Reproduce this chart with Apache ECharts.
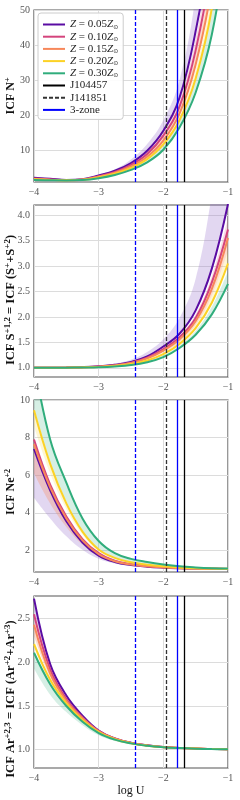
<!DOCTYPE html>
<html><head><meta charset="utf-8">
<script src="https://cdn.jsdelivr.net/npm/echarts@6/dist/echarts.min.js"></script>
<style>html,body{margin:0;padding:0;background:#fff}#c{width:240px;height:800px}</style>
</head><body><div id="c"></div>
<script>
// x grid (log U)
const logU = [-4, -3.75, -3.5, -3.25, -3, -2.75, -2.5, -2.25, -2, -1.75, -1.5, -1.25, -1];

// Panel 1: ICF N+
const n05 = [2.2, 1.9, 1.6, 1.8, 2.85, 4.2, 6.4, 9.9, 15.6, 25.0, 44, 72, 125];
const n10 = [2.0, 1.75, 1.55, 1.72, 2.65, 3.9, 5.9, 9.0, 14.2, 22.5, 38.5, 64, 110];
const n15 = [1.85, 1.65, 1.5, 1.66, 2.5, 3.65, 5.45, 8.2, 12.8, 20.5, 34.5, 57, 97];
const n20 = [1.75, 1.6, 1.5, 1.62, 2.3, 3.35, 5.0, 7.5, 11.7, 18.6, 30.5, 50.5, 85];
const n30 = [1.6, 1.5, 1.45, 1.57, 2.1, 3.0, 4.45, 6.6, 10.2, 16.5, 26.5, 43, 71];
const n05_hi = [2.3, 2.05, 1.8, 1.95, 3.1, 4.6, 7.4, 11.8, 18.6, 30, 54, 92, 160];
const n10_hi = [2.1, 1.85, 1.62, 1.78, 2.7, 4.0, 6.4, 9.9, 15.6, 24.5, 42, 70, 120];
const n15_hi = [1.95, 1.72, 1.55, 1.7, 2.55, 3.75, 5.8, 8.9, 14.0, 22.3, 37.5, 62, 106];
const n20_hi = [1.82, 1.65, 1.52, 1.65, 2.38, 3.5, 5.35, 8.1, 12.6, 20.2, 33, 55, 93];
const n30_hi = [1.72, 1.58, 1.5, 1.62, 2.25, 3.25, 5.0, 7.6, 11.9, 19.0, 31, 51, 86];
const n_ticks = [10, 20, 30, 40, 50];

// Panel 2: ICF S
const s05 = [1.0, 1.002, 1.006, 1.014, 1.03, 1.06, 1.115, 1.225, 1.42, 1.67, 2.13, 2.95, 4.22];
const s10 = [1.0, 1.002, 1.005, 1.012, 1.025, 1.05, 1.1, 1.2, 1.37, 1.6, 1.98, 2.68, 3.72];
const s15 = [1.0, 1.002, 1.005, 1.011, 1.022, 1.045, 1.095, 1.185, 1.34, 1.56, 1.92, 2.55, 3.55];
const s20 = [1.0, 1.001, 1.004, 1.009, 1.018, 1.038, 1.075, 1.145, 1.27, 1.47, 1.78, 2.28, 3.05];
const s30 = [1.0, 1.001, 1.003, 1.007, 1.013, 1.028, 1.055, 1.11, 1.21, 1.39, 1.65, 2.05, 2.65];
const s05_hi = [1.0, 1.003, 1.01, 1.02, 1.04, 1.085, 1.16, 1.31, 1.56, 1.98, 2.75, 4.4, 6.5];
const s10_hi = [1.0, 1.002, 1.006, 1.013, 1.028, 1.055, 1.108, 1.21, 1.39, 1.63, 2.05, 2.8, 3.95];
const s15_lo = [1.0, 1.001, 1.004, 1.01, 1.02, 1.041, 1.085, 1.165, 1.31, 1.51, 1.85, 2.42, 3.3];
const s20_hi = [1.0, 1.002, 1.005, 1.01, 1.02, 1.042, 1.085, 1.165, 1.305, 1.52, 1.86, 2.42, 3.3];
const s30_hi = [1.0, 1.001, 1.004, 1.008, 1.016, 1.034, 1.067, 1.13, 1.25, 1.44, 1.73, 2.2, 2.9];
const s_ticks = [1.0, 1.5, 2.0, 2.5, 3.0, 3.5, 4.0];

// Panel 3: ICF Ne+2
const e05 = [7.4, 5.2, 3.55, 2.42, 1.72, 1.38, 1.22, 1.13, 1.08, 1.05, 1.03, 1.02, 1.01];
const e10 = [7.9, 5.5, 3.8, 2.6, 1.85, 1.45, 1.27, 1.16, 1.1, 1.06, 1.035, 1.02, 1.01];
const e15 = [7.65, 5.35, 3.7, 2.53, 1.8, 1.42, 1.25, 1.15, 1.09, 1.055, 1.03, 1.02, 1.01];
const e20 = [9.45, 6.6, 4.5, 3.0, 2.05, 1.6, 1.37, 1.24, 1.15, 1.09, 1.05, 1.03, 1.02];
const e30 = [12.0, 7.9, 5.6, 3.7, 2.5, 1.85, 1.55, 1.38, 1.25, 1.15, 1.09, 1.05, 1.03];
const e05_lo = [4.8, 3.7, 2.75, 2.03, 1.55, 1.3, 1.17, 1.1, 1.06, 1.035, 1.02, 1.01, 1.005];
const e15_lo = [6.1, 4.5, 3.25, 2.3, 1.68, 1.36, 1.21, 1.12, 1.075, 1.045, 1.025, 1.015, 1.008];
const e20_lo = [8.6, 6.1, 4.2, 2.85, 1.97, 1.55, 1.34, 1.22, 1.13, 1.08, 1.045, 1.025, 1.015];
const e30_lo = [9.6, 6.7, 4.6, 3.05, 2.1, 1.63, 1.39, 1.26, 1.16, 1.1, 1.055, 1.032, 1.02];
const e_ticks = [2, 4, 6, 8, 10];

// Panel 4: ICF Ar
const a05 = [2.73, 1.98, 1.62, 1.39, 1.22, 1.13, 1.08, 1.05, 1.03, 1.02, 1.012, 1.008, 1.005];
const a10 = [2.55, 1.92, 1.58, 1.37, 1.215, 1.128, 1.078, 1.048, 1.03, 1.02, 1.012, 1.008, 1.005];
const a15 = [2.43, 1.87, 1.56, 1.36, 1.21, 1.125, 1.076, 1.047, 1.029, 1.019, 1.012, 1.008, 1.005];
const a20 = [2.21, 1.8, 1.53, 1.34, 1.2, 1.12, 1.074, 1.046, 1.029, 1.019, 1.012, 1.008, 1.005];
const a30 = [2.11, 1.75, 1.5, 1.32, 1.19, 1.115, 1.072, 1.045, 1.028, 1.018, 1.011, 1.007, 1.005];
const a05_lo = [2.6, 1.94, 1.59, 1.375, 1.215, 1.127, 1.077, 1.048, 1.03, 1.02, 1.012, 1.008, 1.005];
const a15_lo = [2.3, 1.83, 1.54, 1.35, 1.205, 1.122, 1.075, 1.046, 1.029, 1.019, 1.012, 1.008, 1.005];
const a20_hi = [2.26, 1.82, 1.54, 1.345, 1.203, 1.121, 1.075, 1.046, 1.029, 1.019, 1.012, 1.008, 1.005];
const a30_lo = [1.93, 1.63, 1.43, 1.28, 1.165, 1.1, 1.063, 1.04, 1.025, 1.016, 1.01, 1.006, 1.004];
const a_ticks = [1.0, 1.5, 2.0, 2.5];

// vertical reference lines (log U)
const j104457 = -1.67;
const j141851 = -1.95;
const zone3_j104457 = -1.785;
const zone3_j141851 = -2.43;

const zNames = ['z05', 'z10', 'z15', 'z20', 'z30'];
const zLabels = ['0.05', '0.10', '0.15', '0.20', '0.30'];
const zColors = ['#5a0ca3', '#d4447c', '#f7875a', '#fcd225', '#30ad7c'];
const bandColors = ['rgba(140,95,200,0.25)', 'rgba(212,68,124,0.2)', 'rgba(247,135,90,0.3)', 'rgba(252,210,37,0.2)', 'rgba(48,173,124,0.2)'];

const panels = [
  {lines: [n05, n10, n15, n20, n30], bands: [[n05, n05_hi, 0], [n10, n10_hi, 1], [n15, n15_hi, 2], [n20, n20_hi, 3], [n30, n30_hi, 4]],
   min: 1.0, max: 50, ticks: n_ticks, dec: 0, name: 'ICF N{sup|+}', shift: 0, fs: 12},
  {lines: [s05, s10, s15, s20, s30], bands: [[s05, s05_hi, 0], [s10, s10_hi, 1], [s15_lo, s10, 2], [s20, s20_hi, 3], [s30, s30_hi, 4]],
   min: 0.82, max: 4.2, ticks: s_ticks, dec: 1, name: 'ICF S{sup|+1,2} = ICF (S{sup|+}+S{sup|+2})', shift: 9, fs: 12.5},
  {lines: [e05, e10, e15, e20, e30], bands: [[e05_lo, e05, 0], [e15, e10, 1], [e15_lo, e15, 2], [e20_lo, e20, 3], [e30_lo, e30, 4]],
   min: 0.85, max: 10, ticks: e_ticks, dec: 0, name: 'ICF Ne{sup|+2}', shift: 6, fs: 12},
  {lines: [a05, a10, a15, a20, a30], bands: [[a05_lo, a05, 0], [a15, a10, 1], [a15_lo, a15, 2], [a20, a20_hi, 3], [a30_lo, a30, 4]],
   min: 0.79, max: 2.76, ticks: a_ticks, dec: 1, name: 'ICF Ar{sup|+2,3} = ICF (Ar{sup|+2}+Ar{sup|+3})', shift: 17, fs: 12.5}
];

const FONT = 'Liberation Serif';
const tops = [10, 205, 400, 596];
const H = 172;
const SM = 0.4;

const grid = [], xAxis = [], yAxis = [], series = [];
panels.forEach((p, i) => {
  grid.push({left: 34, right: 12, top: tops[i], height: H, show: true, borderColor: '#555', borderWidth: 1.2,
    backgroundColor: '#fff', containLabel: false, outerBoundsMode: 'none'});
  xAxis.push({type: 'category', gridIndex: i, data: logU.map(String), boundaryGap: false, show: false});
  xAxis.push({type: 'value', gridIndex: i, min: -4, max: -1, interval: 1, position: 'bottom',
    axisLine: {show: false}, axisTick: {show: false},
    splitLine: {show: true, lineStyle: {color: '#dcdcdc', width: 1}},
    axisLabel: {fontFamily: FONT, fontSize: 10, color: '#555', margin: 5, formatter: v => String(v).replace('-', '\u2212')},
    name: i === 3 ? 'log U' : '', nameLocation: 'middle', nameGap: 17, nameMoveOverlap: false,
    nameTextStyle: {fontFamily: FONT, fontSize: 12, color: '#111'}});
  yAxis.push({type: 'value', gridIndex: i, min: p.min, max: p.max,
    axisLine: {show: false}, axisTick: {show: false, customValues: p.ticks},
    splitLine: {show: true, lineStyle: {color: '#dcdcdc', width: 1}},
    axisLabel: {customValues: p.ticks, fontFamily: FONT, fontSize: 10, color: '#555', margin: 4, formatter: v => v.toFixed(p.dec)},
    name: p.name, nameLocation: 'middle', nameGap: 16, nameRotate: 90, nameMoveOverlap: false,
    nameTextStyle: {fontFamily: FONT, fontSize: p.fs, fontWeight: 'bold', color: '#111', lineHeight: p.fs + 2,
      padding: [0, 2 * p.shift, 0, 0],
      rich: {sup: {fontFamily: FONT, fontSize: Math.round(p.fs * 0.68), fontWeight: 'bold', verticalAlign: 'top',
        lineHeight: Math.round(p.fs * 0.75), color: '#111'}}}});

  p.bands.forEach((b, k) => {
    const lo = b[0], hi = b[1], stack = 'b' + i + '_' + k;
    series.push({type: 'line', xAxisIndex: 2 * i, yAxisIndex: i, data: lo, stack: stack, symbol: 'none', smooth: SM,
      lineStyle: {opacity: 0}, silent: true, z: 1});
    series.push({type: 'line', xAxisIndex: 2 * i, yAxisIndex: i, data: hi.map((v, j) => v - lo[j]), stack: stack, symbol: 'none', smooth: SM,
      lineStyle: {opacity: 0}, areaStyle: {color: bandColors[b[2]], opacity: 1}, silent: true, z: 1});
  });
  p.lines.forEach((d, k) => {
    series.push({type: 'line', name: zNames[k], xAxisIndex: 2 * i, yAxisIndex: i, data: d, symbol: 'none', smooth: SM,
      color: zColors[k], lineStyle: {color: zColors[k], width: 2}, z: 3});
  });
  const ml = (vals, color, type) => ({silent: true, symbol: ['none', 'none'], label: {show: false},
    lineStyle: {color: color, width: 1.3, type: type}, emphasis: {disabled: true}, data: vals.map(v => ({xAxis: v}))});
  series.push({type: 'line', name: 'J104457', xAxisIndex: 2 * i + 1, yAxisIndex: i, data: [], symbol: 'none', color: '#000',
    lineStyle: {color: '#000', width: 1.3}, markLine: ml([j104457], '#000', 'solid'), z: 5});
  series.push({type: 'line', name: 'J141851', xAxisIndex: 2 * i + 1, yAxisIndex: i, data: [], symbol: 'none', color: '#333',
    lineStyle: {color: '#333', width: 1.3, type: [4, 2]}, markLine: ml([j141851], '#333', [4, 2]), z: 5});
  series.push({type: 'line', name: '3-zone', xAxisIndex: 2 * i + 1, yAxisIndex: i, data: [], symbol: 'none', color: '#0000ff',
    lineStyle: {color: '#0000ff', width: 1.3}, markLine: ml([zone3_j104457], '#0000ff', 'solid'), z: 5});
  series.push({type: 'line', name: '3-zone', xAxisIndex: 2 * i + 1, yAxisIndex: i, data: [], symbol: 'none', color: '#0000ff',
    lineStyle: {color: '#0000ff', width: 1.3}, markLine: ml([zone3_j141851], '#0000ff', [4, 2]), z: 5});
});

const chart = echarts.init(document.getElementById('c'), null, {renderer: 'canvas'});
chart.setOption({
  animation: false,
  backgroundColor: '#fff',
  grid, xAxis, yAxis, series,
  legend: {
    data: zNames.concat(['J104457', 'J141851', '3-zone']),
    orient: 'vertical', left: 38, top: 13, padding: [6, 5, 4, 4], itemGap: 1.2,
    itemWidth: 22, itemHeight: 11, z: 10,
    borderColor: '#cccccc', borderWidth: 1, borderRadius: 3, backgroundColor: 'rgba(255,255,255,0.9)',
    selectedMode: false,
    itemStyle: {opacity: 0, borderWidth: 0},
    formatter: name => {
      const k = zNames.indexOf(name);
      if (k < 0) return name;
      return '{i|Z} = ' + zLabels[k] + '{i|Z}{s|\u2299}';
    },
    textStyle: {fontFamily: FONT, fontSize: 11, color: '#222', lineHeight: 11,
      rich: {i: {fontFamily: FONT, fontSize: 11, fontStyle: 'italic', color: '#222'},
             s: {fontFamily: 'DejaVu Sans', fontSize: 6, color: '#222', verticalAlign: 'bottom'}}}
  }
});
</script></body></html>
